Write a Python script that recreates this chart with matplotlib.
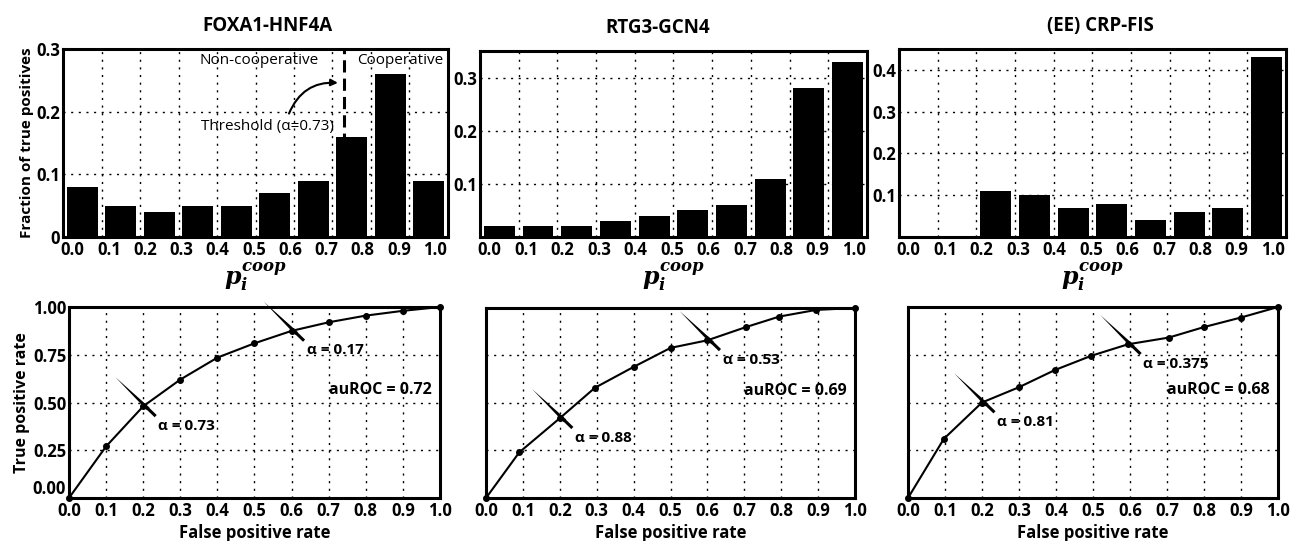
import matplotlib
matplotlib.use('Agg')
import matplotlib.pyplot as plt
import numpy as np
from matplotlib.transforms import offset_copy

plt.rcParams['font.family'] = ['Open Sans', 'DejaVu Sans']
plt.rcParams['mathtext.fontset'] = 'custom'
plt.rcParams['mathtext.it'] = 'DejaVu Serif:italic:bold'
plt.rcParams['mathtext.rm'] = 'DejaVu Serif:bold'

# --- data ---
titles = ['FOXA1-HNF4A', 'RTG3-GCN4', '(EE) CRP-FIS']
bin_edges = [0.0, 0.1, 0.2, 0.3, 0.4, 0.5, 0.6, 0.7, 0.8, 0.9, 1.0]
x_labels = ['0.0', '0.1', '0.2', '0.3', '0.4', '0.5', '0.6', '0.7', '0.8', '0.9', '1.0']

frac_foxa = [0.08, 0.05, 0.04, 0.05, 0.05, 0.07, 0.09, 0.16, 0.26, 0.09]
frac_rtg3 = [0.02, 0.02, 0.02, 0.03, 0.04, 0.05, 0.06, 0.11, 0.28, 0.33]
frac_crp = [0.0, 0.0, 0.11, 0.10, 0.07, 0.08, 0.04, 0.06, 0.07, 0.43]
hist_ylim = [0.3, 0.35, 0.45]
hist_yticks = [[0, 0.1, 0.2, 0.3], [0.1, 0.2, 0.3], [0.1, 0.2, 0.3, 0.4]]

threshold = 0.73

fpr_foxa = [0, 0.1, 0.2, 0.3, 0.4, 0.5, 0.6, 0.7, 0.8, 0.9, 1.0]
tpr_foxa = [0, 0.27, 0.48, 0.62, 0.735, 0.81, 0.875, 0.92, 0.955, 0.98, 1.0]
fpr_rtg3 = [0, 0.09, 0.2, 0.295, 0.4, 0.5, 0.6, 0.705, 0.795, 0.895, 1.0]
tpr_rtg3 = [0, 0.24, 0.42, 0.58, 0.69, 0.79, 0.83, 0.90, 0.955, 0.99, 1.0]
fpr_crp = [0, 0.097, 0.2, 0.3, 0.397, 0.496, 0.595, 0.705, 0.8, 0.9, 1.0]
tpr_crp = [0, 0.31, 0.50, 0.58, 0.67, 0.745, 0.805, 0.84, 0.895, 0.945, 1.0]

# annotated points: (index in the roc arrays, alpha label)
notes_foxa = [(2, 'α = 0.73'), (6, 'α = 0.17')]
notes_rtg3 = [(2, 'α = 0.88'), (6, 'α = 0.53')]
notes_crp = [(2, 'α = 0.81'), (6, 'α = 0.375')]
auroc = ['auROC = 0.72', 'auROC = 0.69', 'auROC = 0.68']

fracs = [frac_foxa, frac_rtg3, frac_crp]
rocs = [(fpr_foxa, tpr_foxa, notes_foxa), (fpr_rtg3, tpr_rtg3, notes_rtg3),
        (fpr_crp, tpr_crp, notes_crp)]

fig = plt.figure(figsize=(12.94, 5.41), dpi=100)

top_pos = [[0.0487, 0.5619, 0.2975, 0.3475],
           [0.3709, 0.5619, 0.2991, 0.3438],
           [0.6947, 0.5619, 0.2991, 0.3475]]
bot_pos = [[0.0533, 0.0795, 0.2867, 0.3530],
           [0.3756, 0.0795, 0.2852, 0.3512],
           [0.7017, 0.0795, 0.2859, 0.3530]]
title_x = [0.53, 0.46, 0.52]

grid_kw = dict(color='black', linestyle=(0, (1.5, 4)), linewidth=1.0)


def style_axes(ax):
    for sp in ax.spines.values():
        sp.set_linewidth(2.2)
    ax.tick_params(length=0, labelsize=12, pad=3)
    ax.tick_params(axis='y', pad=2)
    for lab in ax.get_xticklabels() + ax.get_yticklabels():
        lab.set_fontweight('bold')


centers = [(bin_edges[i] + bin_edges[i + 1]) / 2 for i in range(len(bin_edges) - 1)]
label_pos = np.linspace(0.025, 0.967, len(x_labels))

for k in range(3):
    ax = fig.add_axes(top_pos[k])
    ax.bar(centers, fracs[k], width=0.08, color='black', zorder=2)
    ax.set_xlim(0, 1)
    ax.set_ylim(0, hist_ylim[k])
    ax.set_xticks(label_pos)
    ax.set_xticklabels(x_labels)
    ax.set_xticks(bin_edges[1:-1], minor=True)
    ax.tick_params(which='minor', length=0)
    ax.set_yticks(hist_yticks[k])
    ax.set_yticklabels(['0' if v == 0 else '%.1f' % v for v in hist_yticks[k]])
    ax.grid(which='minor', axis='x', **grid_kw)
    ax.grid(which='major', axis='y', **grid_kw)
    ax.set_title(titles[k], x=title_x[k], fontsize=13.5, fontweight='bold', pad=13)
    ax.set_xlabel(r'$p_i^{coop}$', fontsize=17, labelpad=1)
    style_axes(ax)
    if k == 0:
        ax.set_ylabel('Fraction of true positives', fontsize=11, fontweight='bold', labelpad=2)
        ax.axvline(threshold, color='black', linestyle=(0, (4, 2)), linewidth=2.2, zorder=3)
        ax.text(threshold - 0.065, 0.281, 'Non-cooperative', ha='right', va='center', fontsize=11)
        ax.text(threshold + 0.035, 0.281, 'Cooperative', ha='left', va='center', fontsize=11)
        ax.text(0.53, 0.176, 'Threshold (α=%.2f)' % threshold, ha='center', va='center', fontsize=11)
        ax.annotate('', xy=(threshold - 0.016, 0.246), xytext=(0.587, 0.197),
                    arrowprops=dict(arrowstyle='-|>', connectionstyle='arc3,rad=-0.35',
                                    color='black', lw=1.5, shrinkA=0, shrinkB=0))

for k in range(3):
    fpr, tpr, notes = rocs[k]
    ax = fig.add_axes(bot_pos[k])
    ax.plot(fpr, tpr, 'k-', lw=1.5, marker='o', ms=4, clip_on=False, zorder=4)
    ax.set_xlim(0, 1)
    ax.set_ylim(0, 1)
    ax.set_xticks(bin_edges)
    ax.set_xticklabels(x_labels)
    ax.set_yticks([0, 0.25, 0.5, 0.75, 1.0])
    if k == 0:
        ax.set_yticklabels(['%.2f' % v for v in [0, 0.25, 0.5, 0.75, 1.0]])
        ax.set_ylabel('True positive rate', fontsize=11.5, fontweight='bold', labelpad=2)
    else:
        ax.set_yticklabels([])
    ax.grid(**grid_kw)
    ax.set_xlabel('False positive rate', fontsize=12, fontweight='bold', labelpad=3)
    style_axes(ax)
    if k == 0:
        # lift the lowest y label a touch so it sits above the "0.0" x label
        ax.get_yticklabels()[0].set_verticalalignment('bottom')
    tip = offset_copy(ax.transData, fig=fig, x=-20, y=21, units='points')
    for idx, lab in notes:
        ax.annotate(lab, xy=(fpr[idx], tpr[idx]), xycoords=tip,
                    xytext=(31, -30), textcoords='offset points',
                    ha='left', va='top', fontsize=11, fontweight='bold',
                    annotation_clip=False, zorder=5,
                    arrowprops=dict(facecolor='black', edgecolor='none',
                                    width=2.2, headwidth=2.7, headlength=33))
    ax.text(0.70, 0.565, auroc[k], ha='left', va='center', fontsize=11.5, fontweight='bold')

fig.savefig('out.png', dpi=100)
